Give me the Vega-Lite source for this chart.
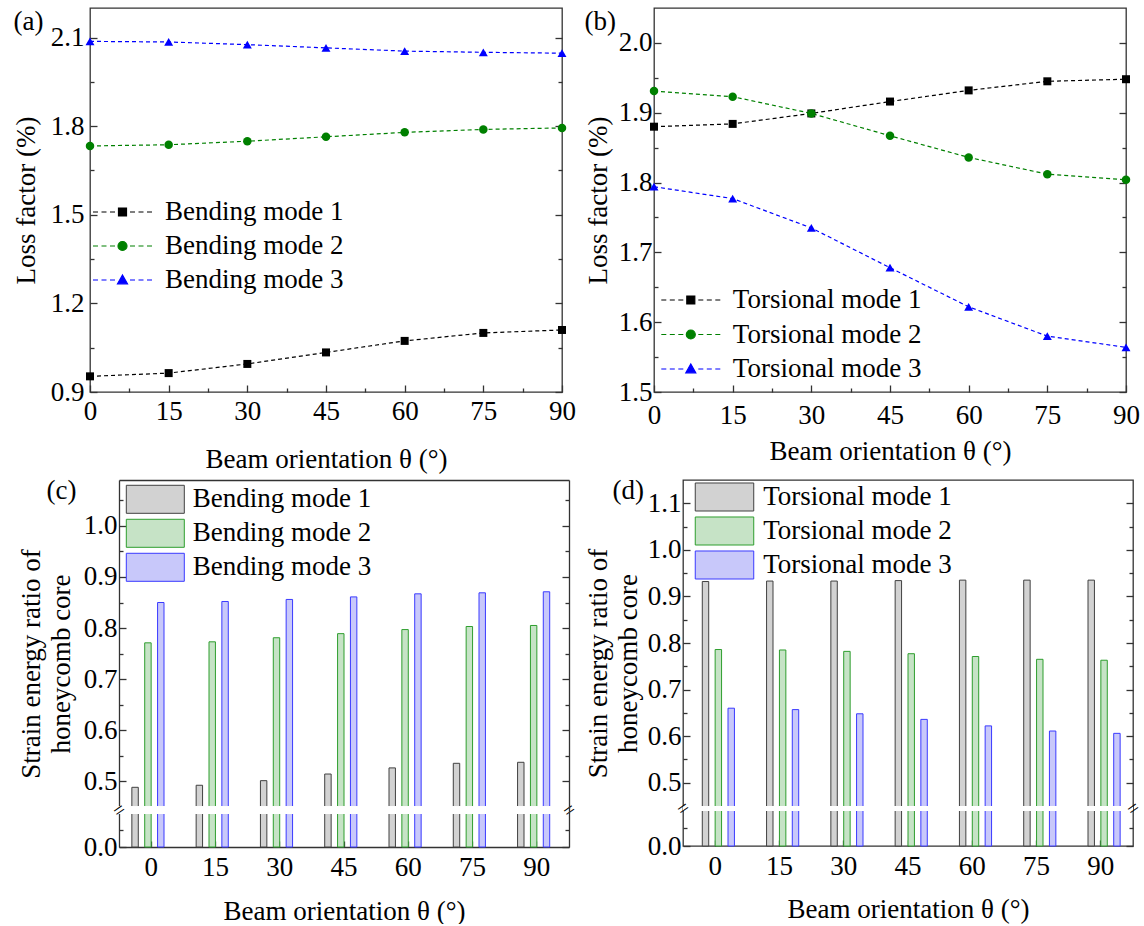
{
  "$schema": "https://vega.github.io/schema/vega-lite/v6.json",
  "padding": {"left": 11, "top": 6, "right": 0, "bottom": 0},
  "background": "white",
  "config": {
    "font": "Liberation Serif",
    "view": {"stroke": "#333333", "strokeWidth": 1.3},
    "axis": {"labelFont": "Liberation Serif", "titleFont": "Liberation Serif", "labelFontSize": 27, "titleFontSize": 27, "labelColor": "#000000", "titleColor": "#000000", "titleFontWeight": "normal", "domain": false, "domainColor": "#333333", "domainWidth": 1.3, "grid": false, "tickColor": "#333333", "tickWidth": 1.3, "labelOverlap": false, "labelBound": false, "labelFlush": false},
    "legend": {"labelFont": "Liberation Serif", "labelFontSize": 27, "labelColor": "#000000", "labelLimit": 400},
    "title": {"font": "Liberation Serif", "fontSize": 27, "fontWeight": "normal", "color": "#000000"}
  },
  "datasets": {
    "lossA": [
      {"angle": 0, "mode": "Bending mode 1", "value": 0.953},
      {"angle": 15, "mode": "Bending mode 1", "value": 0.964},
      {"angle": 30, "mode": "Bending mode 1", "value": 0.995},
      {"angle": 45, "mode": "Bending mode 1", "value": 1.034},
      {"angle": 60, "mode": "Bending mode 1", "value": 1.073},
      {"angle": 75, "mode": "Bending mode 1", "value": 1.1},
      {"angle": 90, "mode": "Bending mode 1", "value": 1.11},
      {"angle": 0, "mode": "Bending mode 2", "value": 1.733},
      {"angle": 15, "mode": "Bending mode 2", "value": 1.737},
      {"angle": 30, "mode": "Bending mode 2", "value": 1.749},
      {"angle": 45, "mode": "Bending mode 2", "value": 1.764},
      {"angle": 60, "mode": "Bending mode 2", "value": 1.779},
      {"angle": 75, "mode": "Bending mode 2", "value": 1.789},
      {"angle": 90, "mode": "Bending mode 2", "value": 1.794},
      {"angle": 0, "mode": "Bending mode 3", "value": 2.087},
      {"angle": 15, "mode": "Bending mode 3", "value": 2.085},
      {"angle": 30, "mode": "Bending mode 3", "value": 2.076},
      {"angle": 45, "mode": "Bending mode 3", "value": 2.065},
      {"angle": 60, "mode": "Bending mode 3", "value": 2.054},
      {"angle": 75, "mode": "Bending mode 3", "value": 2.05},
      {"angle": 90, "mode": "Bending mode 3", "value": 2.047}
    ],
    "lossB": [
      {"angle": 0, "mode": "Torsional mode 1", "value": 1.88},
      {"angle": 15, "mode": "Torsional mode 1", "value": 1.884},
      {"angle": 30, "mode": "Torsional mode 1", "value": 1.899},
      {"angle": 45, "mode": "Torsional mode 1", "value": 1.916},
      {"angle": 60, "mode": "Torsional mode 1", "value": 1.932},
      {"angle": 75, "mode": "Torsional mode 1", "value": 1.945},
      {"angle": 90, "mode": "Torsional mode 1", "value": 1.948},
      {"angle": 0, "mode": "Torsional mode 2", "value": 1.931},
      {"angle": 15, "mode": "Torsional mode 2", "value": 1.923},
      {"angle": 30, "mode": "Torsional mode 2", "value": 1.899},
      {"angle": 45, "mode": "Torsional mode 2", "value": 1.867},
      {"angle": 60, "mode": "Torsional mode 2", "value": 1.836},
      {"angle": 75, "mode": "Torsional mode 2", "value": 1.812},
      {"angle": 90, "mode": "Torsional mode 2", "value": 1.804},
      {"angle": 0, "mode": "Torsional mode 3", "value": 1.794},
      {"angle": 15, "mode": "Torsional mode 3", "value": 1.777},
      {"angle": 30, "mode": "Torsional mode 3", "value": 1.735},
      {"angle": 45, "mode": "Torsional mode 3", "value": 1.678},
      {"angle": 60, "mode": "Torsional mode 3", "value": 1.622},
      {"angle": 75, "mode": "Torsional mode 3", "value": 1.58},
      {"angle": 90, "mode": "Torsional mode 3", "value": 1.564}
    ],
    "serC": [
      {"angle": 0, "mode": "Bending mode 1", "value": 0.488},
      {"angle": 15, "mode": "Bending mode 1", "value": 0.492},
      {"angle": 30, "mode": "Bending mode 1", "value": 0.501},
      {"angle": 45, "mode": "Bending mode 1", "value": 0.514},
      {"angle": 60, "mode": "Bending mode 1", "value": 0.526},
      {"angle": 75, "mode": "Bending mode 1", "value": 0.535},
      {"angle": 90, "mode": "Bending mode 1", "value": 0.537},
      {"angle": 0, "mode": "Bending mode 2", "value": 0.771},
      {"angle": 15, "mode": "Bending mode 2", "value": 0.773},
      {"angle": 30, "mode": "Bending mode 2", "value": 0.781},
      {"angle": 45, "mode": "Bending mode 2", "value": 0.789},
      {"angle": 60, "mode": "Bending mode 2", "value": 0.797},
      {"angle": 75, "mode": "Bending mode 2", "value": 0.803},
      {"angle": 90, "mode": "Bending mode 2", "value": 0.805},
      {"angle": 0, "mode": "Bending mode 3", "value": 0.85},
      {"angle": 15, "mode": "Bending mode 3", "value": 0.852},
      {"angle": 30, "mode": "Bending mode 3", "value": 0.856},
      {"angle": 45, "mode": "Bending mode 3", "value": 0.861},
      {"angle": 60, "mode": "Bending mode 3", "value": 0.867},
      {"angle": 75, "mode": "Bending mode 3", "value": 0.869},
      {"angle": 90, "mode": "Bending mode 3", "value": 0.871}
    ],
    "serD": [
      {"angle": 0, "mode": "Torsional mode 1", "value": 0.932},
      {"angle": 15, "mode": "Torsional mode 1", "value": 0.933},
      {"angle": 30, "mode": "Torsional mode 1", "value": 0.933},
      {"angle": 45, "mode": "Torsional mode 1", "value": 0.934},
      {"angle": 60, "mode": "Torsional mode 1", "value": 0.935},
      {"angle": 75, "mode": "Torsional mode 1", "value": 0.935},
      {"angle": 90, "mode": "Torsional mode 1", "value": 0.935},
      {"angle": 0, "mode": "Torsional mode 2", "value": 0.786},
      {"angle": 15, "mode": "Torsional mode 2", "value": 0.785},
      {"angle": 30, "mode": "Torsional mode 2", "value": 0.782},
      {"angle": 45, "mode": "Torsional mode 2", "value": 0.777},
      {"angle": 60, "mode": "Torsional mode 2", "value": 0.771},
      {"angle": 75, "mode": "Torsional mode 2", "value": 0.765},
      {"angle": 90, "mode": "Torsional mode 2", "value": 0.763},
      {"angle": 0, "mode": "Torsional mode 3", "value": 0.66},
      {"angle": 15, "mode": "Torsional mode 3", "value": 0.657},
      {"angle": 30, "mode": "Torsional mode 3", "value": 0.648},
      {"angle": 45, "mode": "Torsional mode 3", "value": 0.636},
      {"angle": 60, "mode": "Torsional mode 3", "value": 0.622},
      {"angle": 75, "mode": "Torsional mode 3", "value": 0.611},
      {"angle": 90, "mode": "Torsional mode 3", "value": 0.606}
    ]
  },
  "columns": 2,
  "bounds": "full",
  "align": {"row": "all", "column": "none"},
  "spacing": {"row": 2, "column": 3},
  "resolve": {
    "scale": {"color": "independent", "fill": "independent", "stroke": "independent", "shape": "independent", "size": "independent"},
    "legend": {"color": "independent", "fill": "independent", "stroke": "independent", "shape": "independent", "size": "independent"}
  },
  "concat": [
    {
      "width": 472,
      "height": 384,
      "data": {"name": "lossA"},
      "layer": [
        {
          "mark": {"type": "line", "strokeDash": [4, 3], "strokeWidth": 1.2},
          "encoding": {
            "x": {"field": "angle", "type": "quantitative", "scale": {"domain": [0, 90], "nice": false, "zero": false},
              "axis": {"values": [0, 7.5, 15, 22.5, 30, 37.5, 45, 52.5, 60, 67.5, 75, 82.5, 90], "labelExpr": "datum.value % 15 == 0 ? datum.label : ''", "tickSize": {"condition": {"test": "datum.value % 15 != 0", "value": -4}, "value": -7}, "labelPadding": 13, "title": "Beam orientation θ (°)", "titlePadding": 19}},
            "y": {"field": "value", "type": "quantitative", "scale": {"domain": [0.9, 2.2], "nice": false, "zero": false},
              "axis": {"values": [0.9, 1.05, 1.2, 1.35, 1.5, 1.65, 1.8, 1.95, 2.1], "labelExpr": "indexof([0.9, 1.2, 1.5, 1.8, 2.1], datum.value) >= 0 ? format(datum.value, '.1f') : ''", "tickSize": {"condition": {"test": "indexof([1.05, 1.35, 1.65, 1.95], datum.value) >= 0", "value": -4}, "value": -7}, "labelPadding": 13, "title": "Loss factor (%)", "titlePadding": 10}},
            "color": {"field": "mode", "type": "nominal", "scale": {"domain": ["Bending mode 1", "Bending mode 2", "Bending mode 3"], "range": ["#000000", "#008000", "#0000ff"]},
              "legend": {"orient": "none", "legendX": 11.5, "legendY": 183, "title": null, "symbolSize": 1600, "symbolStrokeWidth": 1.2, "labelOffset": 21.5, "rowPadding": 0, "padding": 0,
                "encode": {"symbols": {"update": {
                  "shape": {"signal": "datum.value === 'Bending mode 1' ? 'M-1.475,0H-1.225M-1.05,0H-0.8M-0.625,0H-0.375M0.375,0H0.625M0.8,0H1.05M1.225,0H1.475M-0.2,-0.2H0.2V0.2H-0.2Z' : datum.value === 'Bending mode 2' ? 'M-1.475,0H-1.225M-1.05,0H-0.8M-0.625,0H-0.375M0.375,0H0.625M0.8,0H1.05M1.225,0H1.475M-0.225,0A0.225,0.225,0,1,1,0.225,0A0.225,0.225,0,1,1,-0.225,0Z' : 'M-1.475,0H-1.225M-1.05,0H-0.8M-0.625,0H-0.375M0.375,0H0.625M0.8,0H1.05M1.225,0H1.475M0,-0.25L0.25,0.19L-0.25,0.19Z'"},
                  "fill": {"signal": "datum.value === 'Bending mode 1' ? '#000000' : datum.value === 'Bending mode 2' ? '#008000' : '#0000ff'"},
                  "stroke": {"signal": "datum.value === 'Bending mode 1' ? '#000000' : datum.value === 'Bending mode 2' ? '#008000' : '#0000ff'"},
                  "strokeWidth": {"value": 1.2},
                  "strokeDash": {"value": []},
                  "opacity": {"value": 1}}}}}}
          }
        },
        {
          "mark": {"type": "point", "filled": true, "opacity": 1},
          "encoding": {
            "x": {"field": "angle", "type": "quantitative",
              "axis": {"orient": "top", "labels": false, "ticks": false, "domain": false, "title": "(a)", "titleX": -77, "titleY": 21, "titleAlign": "left", "titleBaseline": "alphabetic", "titleAngle": 0}},
            "y": {"field": "value", "type": "quantitative",
              "axis": {"orient": "right", "values": [0.9, 1.05, 1.2, 1.35, 1.5, 1.65, 1.8, 1.95, 2.1], "labels": false, "title": null, "tickSize": {"condition": {"test": "indexof([1.05, 1.35, 1.65, 1.95], datum.value) >= 0", "value": -4}, "value": -7}}},
            "color": {"field": "mode", "type": "nominal"},
            "shape": {"field": "mode", "type": "nominal", "scale": {"range": ["square", "circle", "triangle-up"]}, "legend": null},
            "size": {"field": "mode", "type": "ordinal", "scale": {"range": [64, 80, 100]}, "legend": null}
          }
        }
      ],
      "resolve": {"axis": {"x": "independent", "y": "independent"}}
    },
    {
      "width": 472,
      "height": 384,
      "data": {"name": "lossB"},
      "layer": [
        {
          "mark": {"type": "line", "strokeDash": [4, 3], "strokeWidth": 1.2},
          "encoding": {
            "x": {"field": "angle", "type": "quantitative", "scale": {"domain": [0, 90], "nice": false, "zero": false},
              "axis": {"values": [0, 7.5, 15, 22.5, 30, 37.5, 45, 52.5, 60, 67.5, 75, 82.5, 90], "labelExpr": "datum.value % 15 == 0 ? datum.label : ''", "tickSize": {"condition": {"test": "datum.value % 15 != 0", "value": -4}, "value": -7}, "labelPadding": 17, "title": "Beam orientation θ (°)", "titlePadding": 7}},
            "y": {"field": "value", "type": "quantitative", "scale": {"domain": [1.5, 2.05], "nice": false, "zero": false},
              "axis": {"values": [1.5, 1.55, 1.6, 1.65, 1.7, 1.75, 1.8, 1.85, 1.9, 1.95, 2.0], "labelExpr": "indexof([1.5, 1.6, 1.7, 1.8, 1.9, 2.0], datum.value) >= 0 ? format(datum.value, '.1f') : ''", "tickSize": {"condition": {"test": "indexof([1.55, 1.65, 1.75, 1.85, 1.95], datum.value) >= 0", "value": -4}, "value": -7}, "labelPadding": 9, "title": "Loss factor (%)", "titlePadding": 6}},
            "color": {"field": "mode", "type": "nominal", "scale": {"domain": ["Torsional mode 1", "Torsional mode 2", "Torsional mode 3"], "range": ["#000000", "#008000", "#0000ff"]},
              "legend": {"orient": "none", "legendX": 15.8, "legendY": 271, "title": null, "symbolSize": 1600, "symbolStrokeWidth": 1.2, "labelOffset": 21, "rowPadding": 0.5, "padding": 0,
                "encode": {"symbols": {"update": {
                  "shape": {"signal": "datum.value === 'Torsional mode 1' ? 'M-1.475,0H-1.225M-1.05,0H-0.8M-0.625,0H-0.375M0.375,0H0.625M0.8,0H1.05M1.225,0H1.475M-0.2,-0.2H0.2V0.2H-0.2Z' : datum.value === 'Torsional mode 2' ? 'M-1.475,0H-1.225M-1.05,0H-0.8M-0.625,0H-0.375M0.375,0H0.625M0.8,0H1.05M1.225,0H1.475M-0.225,0A0.225,0.225,0,1,1,0.225,0A0.225,0.225,0,1,1,-0.225,0Z' : 'M-1.475,0H-1.225M-1.05,0H-0.8M-0.625,0H-0.375M0.375,0H0.625M0.8,0H1.05M1.225,0H1.475M0,-0.25L0.25,0.19L-0.25,0.19Z'"},
                  "fill": {"signal": "datum.value === 'Torsional mode 1' ? '#000000' : datum.value === 'Torsional mode 2' ? '#008000' : '#0000ff'"},
                  "stroke": {"signal": "datum.value === 'Torsional mode 1' ? '#000000' : datum.value === 'Torsional mode 2' ? '#008000' : '#0000ff'"},
                  "strokeWidth": {"value": 1.2},
                  "strokeDash": {"value": []},
                  "opacity": {"value": 1}}}}}}
          }
        },
        {
          "mark": {"type": "point", "filled": true, "opacity": 1},
          "encoding": {
            "x": {"field": "angle", "type": "quantitative",
              "axis": {"orient": "top", "labels": false, "ticks": false, "domain": false, "title": "(b)", "titleX": -70, "titleY": 21, "titleAlign": "left", "titleBaseline": "alphabetic", "titleAngle": 0}},
            "y": {"field": "value", "type": "quantitative",
              "axis": {"orient": "right", "values": [1.5, 1.55, 1.6, 1.65, 1.7, 1.75, 1.8, 1.85, 1.9, 1.95, 2.0], "labels": false, "title": null, "tickSize": {"condition": {"test": "indexof([1.55, 1.65, 1.75, 1.85, 1.95], datum.value) >= 0", "value": -4}, "value": -7}}},
            "color": {"field": "mode", "type": "nominal"},
            "shape": {"field": "mode", "type": "nominal", "scale": {"range": ["square", "circle", "triangle-up"]}, "legend": null},
            "size": {"field": "mode", "type": "ordinal", "scale": {"range": [64, 80, 100]}, "legend": null}
          }
        }
      ],
      "resolve": {"axis": {"x": "independent", "y": "independent"}}
    },
    {
      "width": 479,
      "height": 367,
      "view": {"stroke": null},
      "data": {"name": "serC"},
      "layer": [
        {
          "mark": {"type": "bar", "opacity": 0},
          "encoding": {
            "x": {"field": "angle", "type": "ordinal",
              "axis": {"orient": "top", "labels": false, "ticks": false, "domain": true, "title": "(c)", "titleX": -44, "titleY": 18, "titleAlign": "left", "titleBaseline": "alphabetic", "titleAngle": 0}},
            "xOffset": {"field": "mode", "type": "nominal", "sort": ["Bending mode 1", "Bending mode 2", "Bending mode 3"]},
            "y": {"field": "value", "type": "quantitative",
              "axis": {"orient": "right", "zindex": 1, "domain": true, "values": [0, 0.05, 0.275, 0.5, 0.55, 0.6, 0.65, 0.7, 0.75, 0.8, 0.85, 0.9, 0.95, 1.0, 1.05], "labelExpr": "datum.value == 0.275 ? '=' : ''", "labelAngle": -35, "labelAlign": "center", "labelBaseline": "middle", "labelFontSize": 20, "labelPadding": 7, "tickOpacity": {"condition": {"test": "datum.value == 0.275", "value": 0}, "value": 1}, "tickSize": {"condition": {"test": "indexof([0.05, 0.55, 0.65, 0.75, 0.85, 0.95, 1.05], datum.value) >= 0", "value": -4}, "value": -7}, "title": null}}
          }
        },
        {
          "mark": {"type": "bar", "strokeWidth": 1},
          "encoding": {
            "x": {"field": "angle", "type": "ordinal", "scale": {"range": [29, 479], "paddingInner": 0.4, "paddingOuter": 0.2},
              "axis": {"orient": "bottom", "domain": true, "labelAngle": 0, "tickSize": -6, "labelPadding": 13, "title": "Beam orientation θ (°)", "titlePadding": 18}},
            "xOffset": {"field": "mode", "type": "nominal", "sort": ["Bending mode 1", "Bending mode 2", "Bending mode 3"], "scale": {"paddingInner": 0, "paddingOuter": 0}},
            "y": {"field": "value", "type": "quantitative", "scale": {"domain": [0, 0.1, 0.45, 1.09], "range": [367, 333.5, 326.7, 0], "nice": false, "zero": false},
              "axis": {"offset": -29, "domain": true, "values": [0, 0.05, 0.5, 0.55, 0.6, 0.65, 0.7, 0.75, 0.8, 0.85, 0.9, 0.95, 1.0, 1.05], "labelExpr": "indexof([0, 0.5, 0.6, 0.7, 0.8, 0.9, 1.0], datum.value) >= 0 ? format(datum.value, '.1f') : ''", "tickSize": {"condition": {"test": "indexof([0.05, 0.55, 0.65, 0.75, 0.85, 0.95, 1.05], datum.value) >= 0", "value": -4}, "value": -7}, "labelPadding": 9, "title": ["Strain energy ratio of", "honeycomb core"], "titleLineHeight": 30, "titlePadding": 8}},
            "fill": {"field": "mode", "type": "nominal", "scale": {"domain": ["Bending mode 1", "Bending mode 2", "Bending mode 3"], "range": ["#d2d2d2", "#c6e3c6", "#c8c8fa"]},
              "legend": {"orient": "none", "legendX": 48.3, "legendY": 2.3, "title": null, "symbolType": "M-1.785,-0.862H1.785V0.862H-1.785Z", "symbolSize": 1056, "symbolStrokeWidth": 1, "labelOffset": 20.5, "rowPadding": 0, "padding": 0}},
            "stroke": {"field": "mode", "type": "nominal", "scale": {"domain": ["Bending mode 1", "Bending mode 2", "Bending mode 3"], "range": ["#404040", "#2e9e2e", "#3a3aff"]},
              "legend": {"orient": "none", "legendX": 48.3, "legendY": 2.3, "title": null, "symbolType": "M-1.785,-0.862H1.785V0.862H-1.785Z", "symbolSize": 1056, "symbolStrokeWidth": 1, "labelOffset": 20.5, "rowPadding": 0, "padding": 0}}
          }
        },
        {
          "mark": {"type": "rect", "color": "white"},
          "encoding": {
            "y": {"datum": 0.1, "type": "quantitative",
              "axis": {"orient": "left", "offset": -29, "zindex": 1, "values": [0.275], "labelExpr": "'='", "labelAngle": -35, "labelAlign": "center", "labelBaseline": "middle", "labelFontSize": 20, "labelPadding": 0, "ticks": false, "tickSize": 0, "title": null}},
            "y2": {"datum": 0.45}
          }
        }
      ],
      "resolve": {"axis": {"x": "independent", "y": "independent"}}
    },
    {
      "width": 450,
      "height": 366,
      "data": {"name": "serD"},
      "layer": [
        {
          "mark": {"type": "bar", "opacity": 0},
          "encoding": {
            "x": {"field": "angle", "type": "ordinal",
              "axis": {"orient": "top", "labels": false, "ticks": false, "domain": false, "title": "(d)", "titleX": -71, "titleY": 18, "titleAlign": "left", "titleBaseline": "alphabetic", "titleAngle": 0}},
            "xOffset": {"field": "mode", "type": "nominal", "sort": ["Torsional mode 1", "Torsional mode 2", "Torsional mode 3"]},
            "y": {"field": "value", "type": "quantitative",
              "axis": {"orient": "right", "zindex": 1, "values": [0, 0.05, 0.275, 0.5, 0.55, 0.6, 0.65, 0.7, 0.75, 0.8, 0.85, 0.9, 0.95, 1.0, 1.05, 1.1], "labelExpr": "datum.value == 0.275 ? '=' : ''", "labelAngle": -35, "labelAlign": "center", "labelBaseline": "middle", "labelFontSize": 20, "labelPadding": 7, "tickOpacity": {"condition": {"test": "datum.value == 0.275", "value": 0}, "value": 1}, "tickSize": {"condition": {"test": "indexof([0.05, 0.55, 0.65, 0.75, 0.85, 0.95, 1.05], datum.value) >= 0", "value": -4}, "value": -7}, "title": null}}
          }
        },
        {
          "mark": {"type": "bar", "strokeWidth": 1},
          "encoding": {
            "x": {"field": "angle", "type": "ordinal", "scale": {"paddingInner": 0.4, "paddingOuter": 0.2},
              "axis": {"orient": "bottom", "labelAngle": 0, "tickSize": -6, "labelPadding": 13, "title": "Beam orientation θ (°)", "titlePadding": 17}},
            "xOffset": {"field": "mode", "type": "nominal", "sort": ["Torsional mode 1", "Torsional mode 2", "Torsional mode 3"], "scale": {"paddingInner": 0, "paddingOuter": 0}},
            "y": {"field": "value", "type": "quantitative", "scale": {"domain": [0, 0.1, 0.45, 1.15], "range": [366, 330.5, 326, 0], "nice": false, "zero": false},
              "axis": {"values": [0, 0.05, 0.5, 0.55, 0.6, 0.65, 0.7, 0.75, 0.8, 0.85, 0.9, 0.95, 1.0, 1.05, 1.1], "labelExpr": "indexof([0, 0.5, 0.6, 0.7, 0.8, 0.9, 1.0, 1.1], datum.value) >= 0 ? format(datum.value, '.1f') : ''", "tickSize": {"condition": {"test": "indexof([0.05, 0.55, 0.65, 0.75, 0.85, 0.95, 1.05], datum.value) >= 0", "value": -4}, "value": -7}, "labelPadding": 9, "title": ["Strain energy ratio of", "honeycomb core"], "titleLineHeight": 30, "titlePadding": 5}},
            "fill": {"field": "mode", "type": "nominal", "scale": {"domain": ["Torsional mode 1", "Torsional mode 2", "Torsional mode 3"], "range": ["#d2d2d2", "#c6e3c6", "#c8c8fa"]},
              "legend": {"orient": "none", "legendX": 24.5, "legendY": 0, "title": null, "symbolType": "M-1.8,-0.862H1.8V0.862H-1.8Z", "symbolSize": 1056, "symbolStrokeWidth": 1, "labelOffset": 21.7, "rowPadding": 0, "padding": 0}},
            "stroke": {"field": "mode", "type": "nominal", "scale": {"domain": ["Torsional mode 1", "Torsional mode 2", "Torsional mode 3"], "range": ["#404040", "#2e9e2e", "#3a3aff"]},
              "legend": {"orient": "none", "legendX": 24.5, "legendY": 0, "title": null, "symbolType": "M-1.8,-0.862H1.8V0.862H-1.8Z", "symbolSize": 1056, "symbolStrokeWidth": 1, "labelOffset": 21.7, "rowPadding": 0, "padding": 0}}
          }
        },
        {
          "mark": {"type": "rect", "color": "white"},
          "encoding": {
            "y": {"datum": 0.1, "type": "quantitative",
              "axis": {"orient": "left", "zindex": 1, "values": [0.275], "labelExpr": "'='", "labelAngle": -35, "labelAlign": "center", "labelBaseline": "middle", "labelFontSize": 20, "labelPadding": 0, "ticks": false, "tickSize": 0, "title": null}},
            "y2": {"datum": 0.45}
          }
        }
      ],
      "resolve": {"axis": {"x": "independent", "y": "independent"}}
    }
  ]
}
